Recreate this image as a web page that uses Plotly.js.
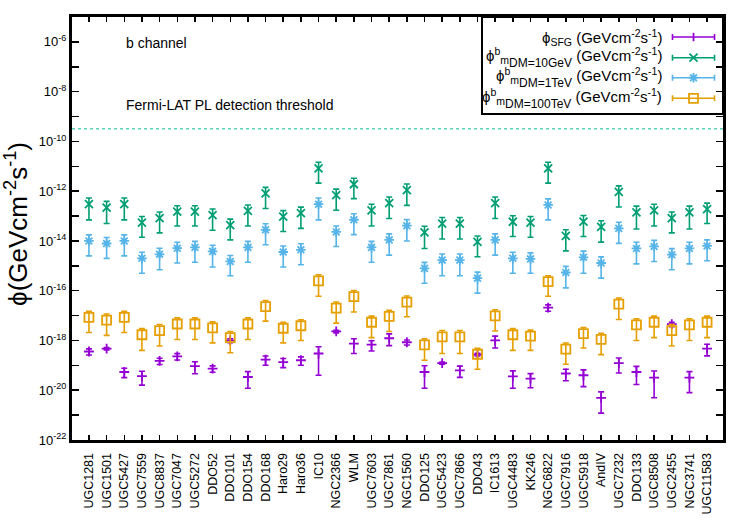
<!DOCTYPE html>
<html>
<head>
<meta charset="utf-8">
<script src="https://cdn.plot.ly/plotly-3.0.1.min.js"></script>
<style>html,body{margin:0;padding:0;background:#fff;}#chart{width:750px;height:525px;}</style>
</head>
<body>
<div id="chart"></div>
<script>
const galaxies = ["UGC1281","UGC1501","UGC5427","UGC7559","UGC8837","UGC7047","UGC5272","DDO52","DDO101","DDO154","DDO168","Haro29","Haro36","IC10","NGC2366","WLM","UGC7603","UGC7861","NGC1560","DDO125","UGC5423","UGC7866","DDO43","IC1613","UGC4483","KK246","NGC6822","UGC7916","UGC5918","AndIV","UGC7232","DDO133","UGC8508","UGC2455","NGC3741","UGC11583"];

const phiSFG = [3.6e-19,4.7e-19,5.4e-20,3.7e-20,1.5e-19,2.3e-19,9.3e-20,7.4e-20,1.0e-18,3.4e-20,1.7e-19,1.35e-19,1.6e-19,3.0e-19,2.3e-18,7.4e-19,6.8e-19,1.23e-18,8.5e-19,5.4e-20,1.23e-19,6.3e-20,2.7e-19,1.0e-18,3.6e-20,2.95e-20,2.1e-17,4.7e-20,4.0e-20,4.9e-21,1.23e-19,5.4e-20,3.2e-20,4.5e-18,3.2e-20,4.7e-19];
const phiSFGErr = [1.0e-19,5e-20,2.2e-20,2.1e-20,4.2e-20,6.7e-20,4.7e-20,2.1e-20,1.8e-19,2.2e-20,6.9e-20,5.4e-20,5.9e-20,2.6e-19,2.8e-19,4.4e-19,3.0e-19,6.1e-19,1.9e-19,4.2e-20,1.2e-20,3.0e-20,3.2e-20,5.0e-19,2.4e-20,1.7e-20,6e-18,2.3e-20,2.6e-20,3.7e-21,7.4e-20,3.7e-20,2.7e-20,9e-19,2.4e-20,2.3e-19];

const phiDM10GeV = [3.0e-13,2.2e-13,3.0e-13,5.5e-14,8.3e-14,1.5e-13,1.5e-13,1.1e-13,4.3e-14,1.6e-13,8.1e-13,9.5e-14,1.3e-13,8.3e-12,6.9e-13,1.9e-12,1.7e-13,3.3e-13,1.1e-12,2.2e-14,5.0e-14,5.0e-14,9.1e-15,3.3e-13,5.9e-14,5.5e-14,8.3e-12,1.6e-14,6.0e-14,3.7e-14,9.3e-13,1.4e-13,1.7e-13,8.3e-14,1.4e-13,1.9e-13];
const phiDM10GeVErr = [2.3e-13,1.7e-13,2.3e-13,4.1e-14,6.2e-14,1.1e-13,1.1e-13,8.3e-14,3.2e-14,1.2e-13,6.1e-13,7.1e-14,9.8e-14,6.2e-12,5.2e-13,1.4e-12,1.3e-13,2.5e-13,8.3e-13,1.7e-14,3.8e-14,3.8e-14,6.8e-15,2.5e-13,4.4e-14,4.1e-14,6.2e-12,1.2e-14,4.5e-14,2.8e-14,7.0e-13,1.1e-13,1.3e-13,6.2e-14,1.1e-13,1.4e-13];

const phiDM1TeV = [1.0e-14,7.9e-15,1.0e-14,2.0e-15,2.9e-15,5.1e-15,5.5e-15,3.8e-15,1.5e-15,5.5e-15,2.8e-14,3.6e-15,4.4e-15,3.0e-13,2.3e-14,7.1e-14,5.5e-15,1.1e-14,4.1e-14,7.9e-16,1.7e-15,1.7e-15,3.2e-16,1.1e-14,2.0e-15,1.9e-15,2.8e-13,5.4e-16,2.2e-15,1.3e-15,3.2e-14,5.0e-15,6.0e-15,2.8e-15,5.0e-15,6.3e-15];
const phiDM1TeVErr = [7.5e-15,5.9e-15,7.5e-15,1.5e-15,2.2e-15,3.8e-15,4.1e-15,2.9e-15,1.1e-15,4.1e-15,2.1e-14,2.7e-15,3.3e-15,2.3e-13,1.7e-14,5.3e-14,4.1e-15,8.3e-15,3.1e-14,5.9e-16,1.3e-15,1.3e-15,2.4e-16,8.3e-15,1.5e-15,1.4e-15,2.1e-13,4.1e-16,1.7e-15,9.8e-16,2.4e-14,3.8e-15,4.5e-15,2.1e-15,3.8e-15,4.7e-15];

const phiDM100TeV = [8.5e-18,6.6e-18,8.5e-18,1.7e-18,2.5e-18,4.6e-18,4.6e-18,3.2e-18,1.3e-18,4.6e-18,2.3e-17,3.1e-18,3.9e-18,2.5e-16,2.0e-17,5.8e-17,5.4e-18,9.3e-18,3.5e-17,6.6e-19,1.4e-18,1.4e-18,2.8e-19,9.8e-18,1.7e-18,1.5e-18,2.3e-16,4.5e-19,1.9e-18,1.1e-18,2.9e-17,4.2e-18,5.4e-18,2.5e-18,4.2e-18,5.4e-18];
const phiDM100TeVErr = [6.4e-18,5.0e-18,6.4e-18,1.3e-18,1.9e-18,3.5e-18,3.5e-18,2.4e-18,9.8e-19,3.5e-18,1.7e-17,2.3e-18,2.9e-18,1.9e-16,1.5e-17,4.4e-17,4.1e-18,7.0e-18,2.6e-17,5.0e-19,1.1e-18,1.1e-18,2.1e-19,7.4e-18,1.3e-18,1.1e-18,1.7e-16,3.4e-19,1.4e-18,8.3e-19,2.2e-17,3.2e-18,4.1e-18,1.9e-18,3.2e-18,4.1e-18];

const fermiThreshold = 3.2e-10;

const yTickVals = [1e-22,1e-20,1e-18,1e-16,1e-14,1e-12,1e-10,1e-8,1e-6];
const yTickText = ["10<sup>-22</sup>","10<sup>-20</sup>","10<sup>-18</sup>","10<sup>-16</sup>","10<sup>-14</sup>","10<sup>-12</sup>","10<sup>-10</sup>","10<sup>-8</sup>","10<sup>-6</sup>"];
const yMinorVals = [1e-21,1e-19,1e-17,1e-15,1e-13,1e-11,1e-9,1e-7,1e-5];

const unitStr = " (GeVcm<sup>-2</sup>s<sup>-1</sup>)";
const dmMasses = ["10GeV", "1TeV", "100TeV"];
const legendLabels = ["ϕ<sub>SFG</sub>" + unitStr].concat(
  dmMasses.map(m => "ϕ<sup>b</sup><sub>m<sub><span style=\"font-size:12px\">DM=" + m + "</span></sub></sub>" + unitStr)
);

const FONT = "Liberation Sans, Arial, Helvetica, sans-serif";
const colors = ["#9400d3", "#009e73", "#56b4e9", "#e69f00"];
const symbols = ["cross-thin", "x-thin", "asterisk-open", "square-open"];
const sizes = [7, 8, 8, 9];
const seriesY = [phiSFG, phiDM10GeV, phiDM1TeV, phiDM100TeV];
const seriesErr = [phiSFGErr, phiDM10GeVErr, phiDM1TeVErr, phiDM100TeVErr];

const traces = [];
for (let i = 0; i < 4; i++) {
  traces.push({
    type: "scatter", mode: "markers",
    x: galaxies, y: seriesY[i],
    name: legendLabels[i], showlegend: false,
    marker: {symbol: symbols[i], size: sizes[i], color: colors[i], line: {color: colors[i], width: 1.8}},
    error_y: {type: "data", array: seriesErr[i], visible: true, color: colors[i], thickness: 1.6, width: 3}
  });
}
// threshold line across the frame
traces.push({
  type: "scatter", mode: "lines", xaxis: "x2", yaxis: "y",
  x: [0, 1], y: [fermiThreshold, fermiThreshold], showlegend: false, hoverinfo: "skip",
  line: {color: "#5cd3b6", width: 1.5, dash: "dot"}
});

// custom legend (text left, sample right, like the original)
const legX = 0.9547, legHalf = 0.0323;
const legRows = [0.9527, 0.9038, 0.8565, 0.8078];
for (let i = 0; i < 4; i++) {
  traces.push({
    type: "scatter", mode: "markers", xaxis: "x2", yaxis: "y2",
    x: [legX], y: [legRows[i]], showlegend: false, hoverinfo: "skip",
    marker: {symbol: i === 0 ? "line-ns" : symbols[i], size: i === 0 ? 6 : sizes[i], color: colors[i], line: {color: colors[i], width: 1.8}},
    error_x: {type: "constant", value: legHalf, visible: true, color: colors[i], thickness: 1.6, width: 3}
  });
}

const annotations = [
  {xref: "paper", yref: "paper", x: 0.08, y: 0.939, xanchor: "left", yanchor: "middle", showarrow: false, text: "b channel", font: {family: FONT, size: 14, color: "#000"}},
  {xref: "paper", yref: "paper", x: 0.08, y: 0.792, xanchor: "left", yanchor: "middle", showarrow: false, text: "Fermi-LAT PL detection threshold", font: {family: FONT, size: 14, color: "#000"}},
  {xref: "paper", yref: "paper", x: -0.085, y: 0.51, xanchor: "center", yanchor: "middle", showarrow: false, textangle: -90, text: "ϕ(GeVcm<sup>-2</sup>s<sup>-1</sup>)", font: {family: FONT, size: 26, color: "#000"}}
];
for (let i = 0; i < 4; i++) {
  annotations.push({xref: "paper", yref: "paper", x: 0.9094, y: legRows[i], xanchor: "right", yanchor: "middle", showarrow: false, text: legendLabels[i], font: {family: FONT, size: 15, color: "#000"}});
}

const layout = {
  width: 750, height: 525,
  margin: {l: 72, r: 27, t: 17, b: 85},
  paper_bgcolor: "#fff", plot_bgcolor: "#fff",
  showlegend: false,
  font: {family: FONT, size: 13, color: "#000"},
  xaxis: {
    type: "category", range: [-0.96, 35.9],
    showgrid: false, zeroline: false,
    showline: true, linecolor: "#000", linewidth: 3, mirror: "allticks",
    ticks: "inside", ticklen: 5, tickwidth: 1.5, tickcolor: "#000",
    tickangle: -90, tickfont: {family: FONT, size: 12.5, color: "#000"},
    ticklabelstandoff: 5
  },
  yaxis: {
    type: "log", range: [-22, -5],
    showgrid: false, zeroline: false,
    showline: true, linecolor: "#000", linewidth: 3, mirror: "allticks",
    ticks: "inside", ticklen: 7, tickwidth: 1.5, tickcolor: "#000",
    tickmode: "array", tickvals: yTickVals, ticktext: yTickText,
    tickfont: {family: FONT, size: 13, color: "#000"},
    minor: {tickmode: "array", tickvals: yMinorVals, ticks: "inside", ticklen: 4, tickwidth: 1.5, tickcolor: "#000", showgrid: false}
  },
  xaxis2: {overlaying: "x", range: [0, 1], visible: false, fixedrange: true},
  yaxis2: {overlaying: "y", range: [0, 1], visible: false, fixedrange: true},
  shapes: [
    {type: "rect", xref: "paper", yref: "paper", x0: 0.6298, x1: 1, y0: 0.7707, y1: 1, layer: "below", fillcolor: "#fff", line: {color: "#000", width: 2}}
  ],
  annotations: annotations
};

Plotly.newPlot("chart", traces, layout, {staticPlot: true, displayModeBar: false});
</script>
</body>
</html>
